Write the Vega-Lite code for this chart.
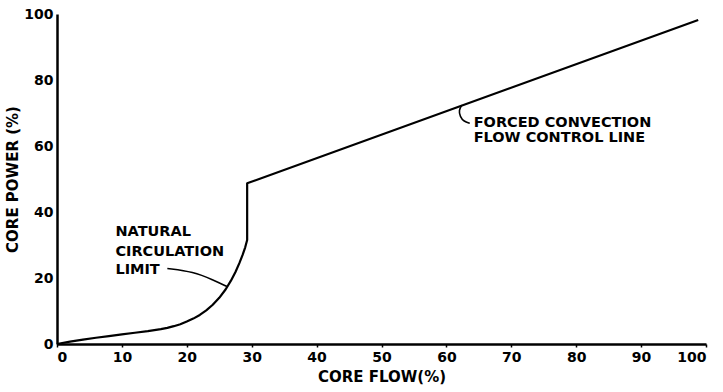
{
  "$schema": "https://vega.github.io/schema/vega-lite/v6.json",
  "width": 649,
  "height": 330,
  "autosize": {"type": "none"},
  "padding": {"left": 57, "top": 14, "right": 17, "bottom": 48},
  "background": "white",
  "config": {
    "view": {"stroke": null},
    "font": "DejaVu Sans",
    "axis": {
      "grid": false,
      "domainColor": "black",
      "domainWidth": 2.5,
      "tickColor": "black",
      "labelColor": "black",
      "titleColor": "black",
      "labelFont": "DejaVu Sans",
      "titleFont": "DejaVu Sans",
      "labelFontWeight": "bold",
      "titleFontWeight": "bold",
      "labelFontSize": 14,
      "titleFontSize": 15
    }
  },
  "datasets": {
    "curve": [
      {"flow": 0, "power": 0},
      {"flow": 2, "power": 0.7},
      {"flow": 4, "power": 1.3},
      {"flow": 6, "power": 1.9},
      {"flow": 8, "power": 2.4},
      {"flow": 10, "power": 2.9},
      {"flow": 12, "power": 3.4},
      {"flow": 14, "power": 3.9},
      {"flow": 16, "power": 4.5},
      {"flow": 17, "power": 4.9},
      {"flow": 18, "power": 5.4},
      {"flow": 19, "power": 6.0},
      {"flow": 20, "power": 6.8},
      {"flow": 21, "power": 7.7},
      {"flow": 22, "power": 8.8},
      {"flow": 23, "power": 10.2},
      {"flow": 24, "power": 11.9},
      {"flow": 25, "power": 14.0},
      {"flow": 26, "power": 16.6},
      {"flow": 26.8, "power": 19.2},
      {"flow": 27.5, "power": 21.8},
      {"flow": 28.1, "power": 24.5},
      {"flow": 28.6, "power": 27.0},
      {"flow": 29.0, "power": 29.3},
      {"flow": 29.3, "power": 31.5},
      {"flow": 29.3, "power": 48.7},
      {"flow": 98.8, "power": 98.2}
    ],
    "leaders": [
      {"series": "nc", "order": 1, "flow": 17.0, "power": 22.9},
      {"series": "nc", "order": 2, "flow": 21.0, "power": 21.9},
      {"series": "nc", "order": 3, "flow": 24.1, "power": 19.4},
      {"series": "nc", "order": 4, "flow": 26.2, "power": 17.4},
      {"series": "fc", "order": 1, "flow": 62.4, "power": 72.4},
      {"series": "fc", "order": 2, "flow": 61.9, "power": 70.9},
      {"series": "fc", "order": 3, "flow": 62.1, "power": 68.9},
      {"series": "fc", "order": 4, "flow": 62.7, "power": 67.4},
      {"series": "fc", "order": 5, "flow": 63.6, "power": 66.9}
    ],
    "labels": [
      {"flow": 9.0, "power": 33.9, "text": "NATURAL"},
      {"flow": 9.0, "power": 28.0, "text": "CIRCULATION"},
      {"flow": 9.0, "power": 22.4, "text": "LIMIT"},
      {"flow": 64.2, "power": 66.9, "text": "FORCED CONVECTION"},
      {"flow": 64.2, "power": 62.3, "text": "FLOW CONTROL LINE"}
    ]
  },
  "layer": [
    {
      "data": {"name": "curve"},
      "mark": {"type": "line", "color": "black", "strokeWidth": 2.2, "interpolate": "linear", "strokeJoin": "round"},
      "encoding": {
        "x": {
          "field": "flow", "type": "quantitative",
          "scale": {"domain": [0, 100], "nice": false},
          "axis": {
            "values": [0, 10, 20, 30, 40, 50, 60, 70, 80, 90, 100],
            "ticks": true,
            "tickSize": 3,
            "tickWidth": 1.5,
            "labelPadding": 3,
            "title": "CORE  FLOW(%)",
            "titlePadding": 5
          }
        },
        "y": {
          "field": "power", "type": "quantitative",
          "scale": {"domain": [0, 100], "nice": false},
          "axis": {
            "values": [0, 20, 40, 60, 80, 100],
            "ticks": false,
            "labelPadding": 4,
            "title": "CORE  POWER (%)",
            "titlePadding": 3
          }
        },
        "order": {"field": "power", "type": "quantitative"}
      }
    },
    {
      "data": {"name": "leaders"},
      "mark": {"type": "line", "color": "black", "strokeWidth": 1.6, "interpolate": "basis"},
      "encoding": {
        "x": {"field": "flow", "type": "quantitative"},
        "y": {"field": "power", "type": "quantitative"},
        "detail": {"field": "series"},
        "order": {"field": "order", "type": "quantitative"}
      }
    },
    {
      "data": {"name": "labels"},
      "mark": {"type": "text", "align": "left", "baseline": "middle", "font": "DejaVu Sans", "fontWeight": "bold", "fontSize": 14.5, "color": "black"},
      "encoding": {
        "x": {"field": "flow", "type": "quantitative"},
        "y": {"field": "power", "type": "quantitative"},
        "text": {"field": "text"}
      }
    }
  ]
}
